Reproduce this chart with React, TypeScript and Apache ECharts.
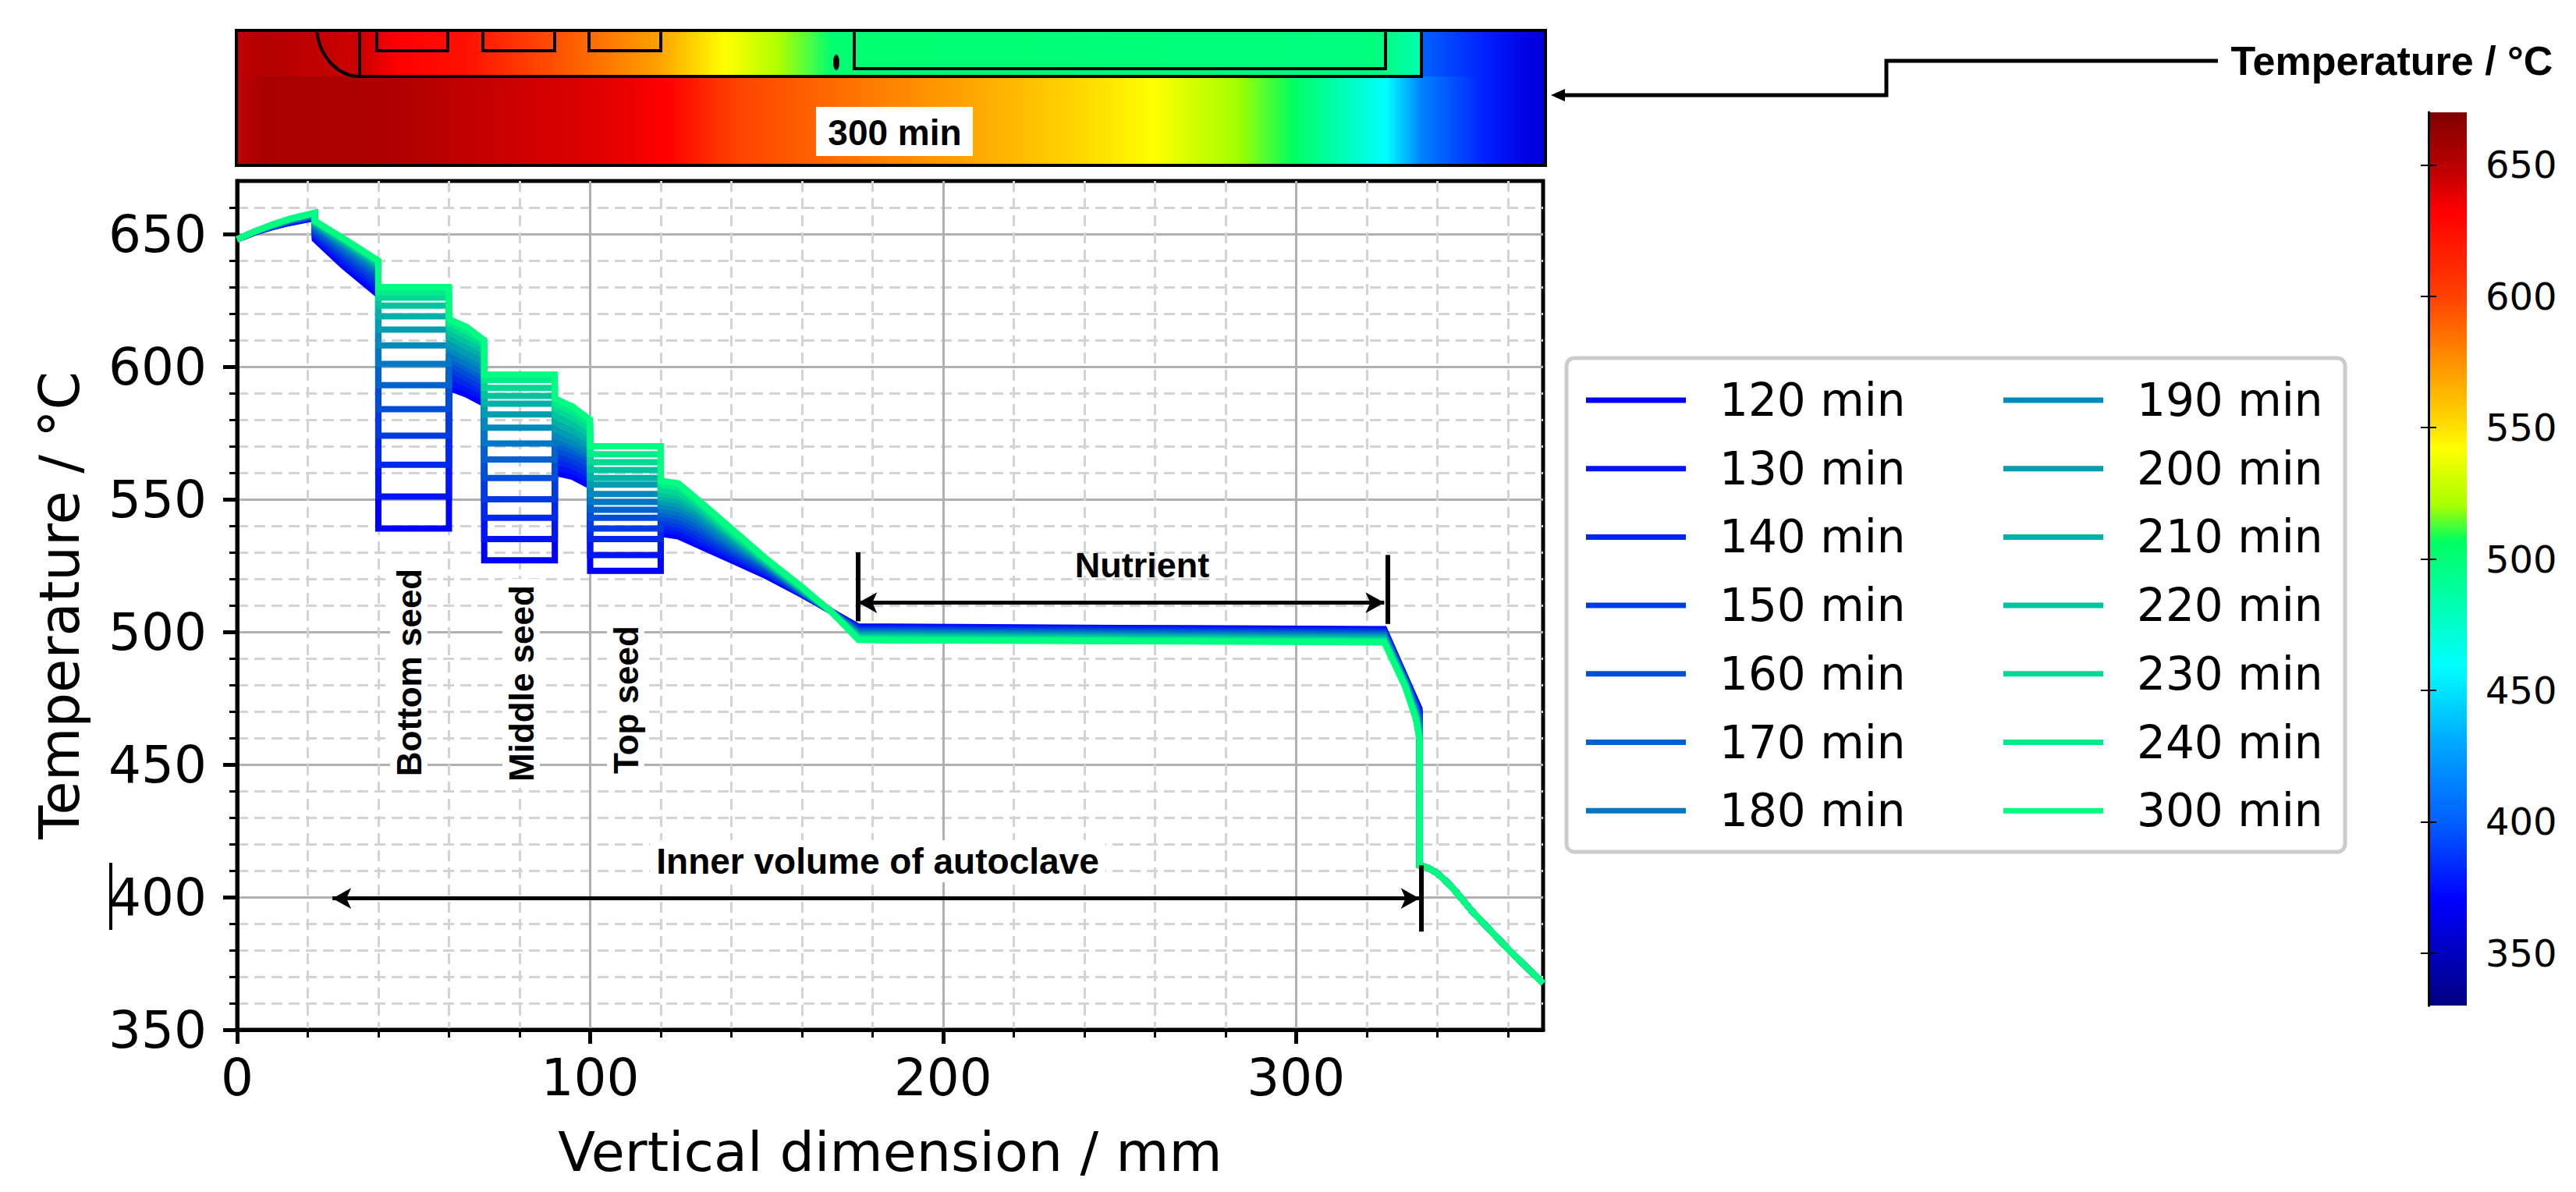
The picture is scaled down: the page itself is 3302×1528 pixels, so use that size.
import React, { useEffect, useRef } from "react";
import * as echarts from "echarts";

const xPositions = [0,5,10,15,22,22,30,40,40,60,60,65,70,70,90,90,95,100,100,120,120,125,130,140,150,160,168,176,185,250,325,331,334,335,335,337.5,340,342.5,345,350,360,370];
const tailTemps = [412,411,409,406,402.5,394.5,380.5,367.5];

const temp120 = [648,650.6,652.6,654.2,656,648,638,627,539,539,592,589.5,586,527,527,560,558.5,555,523,523,537,536,533,527,521,514,508,502,502,501.5,501,483,474,471];
const temp130 = [648,650.6,652.7,654.4,656.3,648.9,639.4,628.7,551,551,594,591.5,588,535,535,562,560.5,557,529,529,538.5,537.5,534.5,528,521.7,514.2,508,501.6,501.6,501.1,500.6,482.7,473.4,470];
const temp140 = [648,650.7,652.8,654.6,656.5,649.8,640.7,630.4,563,563,596.5,593.5,590,543,543,564.5,562.5,559,535,535,540,539,536,529,522.4,514.4,508,501.2,501.2,500.7,500.2,482.4,472.8,469];
const temp150 = [648,650.7,652.9,654.8,656.8,650.7,642,631.9,574,574,599,595.5,592,550,550,566.5,564.5,561,539,539,541.5,540.5,537.5,530,523,514.6,508,500.8,500.8,500.3,499.8,482.1,472.2,468];
const temp160 = [648,650.8,653,655,657,651.4,643.1,633.4,584,584,601,597.5,594,558,558,568.5,566.5,563,543,543,543,542,539,531,523.7,514.8,508,500.4,500.4,499.9,499.4,481.8,471.6,467];
const temp170 = [648,650.8,653.1,655.1,657.2,652.1,644.2,634.7,593,593,603,599.5,596,565,565,570.5,568.5,565,546,546,544.5,543.5,540.5,532,524.4,515,508,500,500,499.5,499,481.5,471,466];
const temp180 = [648,650.9,653.2,655.2,657.4,652.8,645.1,635.8,601,601,604.5,601,597.5,571,571,572,570,566.5,549,549,546,545,542,533,524.8,515.2,508,499.6,499.6,499.1,498.6,481.2,470.4,465];
const temp190 = [648,650.9,653.3,655.3,657.5,653.3,646,636.9,608,608,606.5,603,599.5,577,577,574,571.5,568,552,552,547.5,546.5,543.5,534,525.2,515.5,508,499.2,499.2,498.7,498.2,480.9,469.8,464];
const temp200 = [648,651,653.3,655.4,657.6,653.7,646.6,637.7,614,614,608.5,605,601.5,582,582,576.5,573.5,570,555.5,555.5,549,548,545,535,525.5,515.7,508,498.8,498.8,498.3,497.8,480.6,469.2,463];
const temp210 = [648,651,653.4,655.5,657.8,654.2,647.2,638.4,619,619,611,607.5,604,586,586,579,576,572,558,558,550.5,549.5,546.2,536,526,516,508,498.4,498.4,497.9,497.4,480.3,468.6,462];
const temp220 = [648,651,653.4,655.6,657.8,654.4,647.7,639,623,623,613,609.5,606,589,589,581.5,578.5,574,561,561,552,551,547.2,536.5,526.4,516.2,508,498,498,497.5,497,480,468,461];
const temp230 = [648,651,653.5,655.7,657.9,654.7,648.1,639.5,626,626,615,611.5,608,592,592,584,581,576.5,564,564,553.5,552.5,548.6,537.2,526.8,516.5,508,497.7,497.6,497.1,496.7,479.8,467.6,460.3];
const temp240 = [648,651,653.5,655.7,658,654.9,648.3,639.7,628,628,616.5,613.5,609,595,595,586,583,578.5,567,567,555.5,554.5,549.6,538.2,527.2,516.8,508,497.4,497.2,496.8,496.4,479.4,467.2,459.6];
const temp300 = [648,651,653.6,655.8,658,655,648.5,640,630,630,618,615,610,597,597,588,585,580,570,570,557,556,550.5,539,527.5,517,508,497,496.8,496.5,496,479,467,459];

const seriesNames = ["120 min","130 min","140 min","150 min","160 min","170 min","180 min","190 min","200 min","210 min","220 min","230 min","240 min","300 min"];
const seriesTemps = [temp120,temp130,temp140,temp150,temp160,temp170,temp180,temp190,temp200,temp210,temp220,temp230,temp240,temp300];
const seriesColors = ["#0000ff","#0014f5","#0027ec","#003be2","#004ed8","#0062ce","#0076c4","#0089bb","#009db1","#00b1a7","#00c49d","#00d894","#00eb8a","#00ff80"];

const xTicks = [0,100,200,300];
const yTicks = [350,400,450,500,550,600,650];
const barTicks = [350,400,450,500,550,600,650];

const FONT = "DejaVu Sans";
const BOLD = "Liberation Sans";

const barStops = [
  [0,"#800000"],[0.059,"#b80000"],[0.112,"#ff0000"],[0.206,"#ff4000"],[0.293,"#ffa000"],[0.353,"#ffe000"],[0.376,"#ffff00"],
  [0.44,"#a8ff00"],[0.48,"#00ff60"],[0.62,"#00ffff"],[0.714,"#00a0ff"],[0.794,"#0060ff"],[0.881,"#0000ff"],[1,"#000080"],
].map(([offset,color]) => ({ offset, color }));

const FX0 = 303, FX1 = 1981;
const stops = (list: [number,string][]) => list.map(([x,color]) => ({ offset:(x-FX0)/(FX1-FX0), color }));
const upperStops = stops([[303,"#c00000"],[337,"#b30000"],[461,"#cc0000"],[510,"#ff0000"],[596,"#ff1000"],[711,"#ff5000"],[843,"#ffa000"],[929,"#ffff00"],[998,"#b0ff00"],[1066,"#00ff70"],[1776,"#00ff80"],[1820,"#00ffb0"],[1824,"#0060ff"],[1904,"#0020ff"],[1961,"#0000e0"],[1981,"#0000e0"]]);
const lowerStops = stops([[303,"#c00000"],[340,"#a80000"],[510,"#b00000"],[768,"#e00000"],[854,"#ff0000"],[940,"#ff4000"],[1180,"#ff9000"],[1272,"#ffb000"],[1387,"#ffd800"],[1479,"#ffff00"],[1588,"#a0ff00"],[1657,"#00ff60"],[1777,"#00ffff"],[1823,"#0080ff"],[1904,"#0020ff"],[1961,"#0000e0"],[1981,"#0000e0"]]);

const grad = (colorStops: any[]) => ({ type:"linear", x:0, y:0, x2:1, y2:0, colorStops });
const stroke = { stroke:"#000", lineWidth:4, fill:"none" };
const label = (text:string, x:number, y:number, fontSize:number, extra:any = {}, rotation = 0) => ({
  type:"text", x, y, rotation, z:50,
  style:{ text, fontSize, fontFamily:BOLD, fontWeight:"bold", fill:"#000", align:"center", verticalAlign:"middle", ...extra },
});
const seedBox = (x0:number, x1:number) => ({ type:"polyline", z:12, shape:{ points:[[x0,39],[x0,65],[x1,65],[x1,39]] }, style:stroke });
const bar = (x:number, y0:number, y1:number) => [
  { coord:[x,y0], symbol:"none", lineStyle:{ color:"#000", width:6, type:"solid" } },
  { coord:[x,y1], symbol:"none" },
];

export default function App() {
  const ref = useRef<HTMLDivElement>(null);
  useEffect(() => {
    document.body.style.margin = "0";
    const chart = echarts.init(ref.current!, null, { renderer:"svg" });
    const lineSeries = seriesNames.map((name,i) => ({
      name, type:"line", xAxisIndex:0, yAxisIndex:0, symbol:"none", z:3,
      lineStyle:{ color:seriesColors[i], width:8, join:"miter" },
      itemStyle:{ color:seriesColors[i] },
      data:xPositions.map((x,k) => [x, k < seriesTemps[i].length ? seriesTemps[i][k] : tailTemps[k-seriesTemps[i].length]]),
    }));
    const legendBase = {
      orient:"vertical", top:478, icon:"rect", itemWidth:128, itemHeight:7, itemGap:27.7, selectedMode:false, z:20,
      textStyle:{ fontFamily:FONT, fontSize:58, lineHeight:60, height:60, color:"#000", padding:[0,0,0,38] },
    };
    chart.setOption({
      animation:false,
      backgroundColor:"#fff",
      grid:[
        { left:304, top:232, width:1674, height:1088, show:true, borderColor:"#000", borderWidth:5, outerBoundsMode:"none" },
        { left:3113, top:144, width:49, height:1145, show:false, outerBoundsMode:"none" },
      ],
      xAxis:[
        { type:"value", gridIndex:0, min:0, max:370, interval:100,
          name:"Vertical dimension / mm", nameLocation:"middle", nameGap:122,
          nameTextStyle:{ fontFamily:FONT, fontSize:70, color:"#000" },
          axisLine:{ lineStyle:{ color:"#000", width:5 } },
          axisTick:{ show:true, length:18, lineStyle:{ color:"#000", width:5 }, customValues:xTicks },
          axisLabel:{ fontFamily:FONT, fontSize:66, color:"#000", margin:28, customValues:xTicks },
          splitLine:{ show:true, lineStyle:{ color:"#b0b0b0", width:3 } },
          minorTick:{ show:true, splitNumber:5, length:10, lineStyle:{ color:"#000", width:3 } },
          minorSplitLine:{ show:true, lineStyle:{ color:"#d3d3d3", width:3, type:[14,8] } },
        },
        { type:"value", gridIndex:1, min:0, max:1, show:false },
      ],
      yAxis:[
        { type:"value", gridIndex:0, min:350, max:670, interval:50,
          name:"Temperature / °C", nameLocation:"middle", nameGap:192,
          nameTextStyle:{ fontFamily:FONT, fontSize:70.5, color:"#000" },
          axisLine:{ lineStyle:{ color:"#000", width:5 } },
          axisTick:{ show:true, length:18, lineStyle:{ color:"#000", width:5 }, customValues:yTicks },
          axisLabel:{ fontFamily:FONT, fontSize:66, color:"#000", margin:39, customValues:yTicks },
          splitLine:{ show:true, lineStyle:{ color:"#b0b0b0", width:3 } },
          minorTick:{ show:true, splitNumber:5, length:10, lineStyle:{ color:"#000", width:3 } },
          minorSplitLine:{ show:true, lineStyle:{ color:"#d3d3d3", width:3, type:[14,8] } },
        },
        { type:"value", gridIndex:1, min:330, max:670, interval:50, position:"right", z:5,
          axisLine:{ show:true, lineStyle:{ color:"#000", width:3 } },
          axisTick:{ show:true, inside:true, length:10, lineStyle:{ color:"#000", width:2 }, customValues:barTicks },
          axisLabel:{ fontFamily:FONT, fontSize:48, color:"#000", margin:24, customValues:barTicks },
          splitLine:{ show:false },
        },
        { type:"value", gridIndex:1, min:330, max:670, interval:50, position:"left", z:5,
          axisLine:{ show:true, lineStyle:{ color:"#000", width:3 } },
          axisTick:{ show:true, inside:true, length:10, lineStyle:{ color:"#000", width:2 }, customValues:barTicks },
          axisLabel:{ show:false },
          splitLine:{ show:false },
        },
      ],
      legend:[
        { ...legendBase, left:2028, data:seriesNames.slice(0,7) },
        { ...legendBase, left:2563, data:seriesNames.slice(7) },
      ],
      series:[
        ...lineSeries,
        { type:"custom", xAxisIndex:1, yAxisIndex:1, data:[[0,1,330,670]], z:2, silent:true,
          encode:{ x:[0,1], y:[2,3] },
          renderItem:(_p:any, api:any) => {
            const a = api.coord([api.value(0), api.value(3)]);
            const b = api.coord([api.value(1), api.value(2)]);
            return { type:"rect", shape:{ x:a[0], y:a[1], width:b[0]-a[0], height:b[1]-a[1] },
              style:{ fill:{ type:"linear", x:0, y:0, x2:0, y2:1, colorStops:barStops } } };
          },
        },
        { type:"line", xAxisIndex:0, yAxisIndex:0, data:[], z:6, silent:true,
          markLine:{ silent:true, animation:false, symbol:["arrow","arrow"], symbolSize:[20,24], label:{ show:false },
            lineStyle:{ color:"#000", width:5, type:"solid" },
            data:[
              [{ coord:[176,511] },{ coord:[325,511] }],
              [{ coord:[27,399.5] },{ coord:[335,399.5] }],
              bar(175.8,530,504),
              bar(326,529,503),
              bar(335.5,412,387),
            ],
          },
        },
      ],
      graphic:[
        { type:"rect", z:10, shape:{ x:FX0, y:39, width:FX1-FX0, height:60 }, style:{ fill:grad(upperStops) } },
        { type:"rect", z:10, shape:{ x:FX0, y:98, width:FX1-FX0, height:114 }, style:{ fill:grad(lowerStops) } },
        { type:"rect", z:13, shape:{ x:FX0, y:39, width:FX1-FX0, height:173 }, style:stroke },
        { type:"bezierCurve", z:12, shape:{ x1:406, y1:39, cpx1:410, cpy1:75, cpx2:435, cpy2:98, x2:461, y2:98 }, style:stroke },
        { type:"polyline", z:12, shape:{ points:[[461,39],[461,98],[1822,98],[1822,39]] }, style:stroke },
        seedBox(483,574), seedBox(619,711), seedBox(755,847),
        { type:"polyline", z:12, shape:{ points:[[1095,39],[1095,88],[1776,88],[1776,39]] }, style:stroke },
        { type:"ellipse", z:12, shape:{ cx:1072, cy:80, rx:4, ry:10 }, style:{ fill:"#000" } },
        { type:"rect", z:14, shape:{ x:1046, y:137, width:201, height:63 }, style:{ fill:"#fff" } },
        label("300 min", 1147, 170, 46, {}),
        { type:"polyline", z:12, shape:{ points:[[2843,78],[2418,78],[2418,122],[2005,122]] }, style:{ stroke:"#000", lineWidth:5, fill:"none" } },
        { type:"polygon", z:12, shape:{ points:[[1988,122],[2006,114],[2006,130]] }, style:{ fill:"#000" } },
        label("Temperature / °C", 3066, 78, 52, {}),
        { type:"line", z:12, shape:{ x1:142, y1:1106, x2:142, y2:1192 }, style:{ stroke:"#000", lineWidth:4 } },
        label("Nutrient", 1464, 724, 45, {}),
        label("Inner volume of autoclave", 1125, 1104, 46, { backgroundColor:"#fff", padding:[4,8] }),
        label("Bottom seed", 524, 862, 44, { backgroundColor:"#fff", padding:[2,8] }, Math.PI/2),
        label("Middle seed", 668, 876, 44, { backgroundColor:"#fff", padding:[2,8] }, Math.PI/2),
        label("Top seed", 802, 897, 44, { backgroundColor:"#fff", padding:[2,8] }, Math.PI/2),
        { type:"rect", z:1, shape:{ x:2008, y:459, width:998, height:633, r:10 }, style:{ fill:"#fff", stroke:"#cccccc", lineWidth:5 } },
      ],
    });
    return () => chart.dispose();
  }, []);
  return <div ref={ref} style={{ position:"fixed", left:0, top:0, width:3302, height:1528 }} />;
}
